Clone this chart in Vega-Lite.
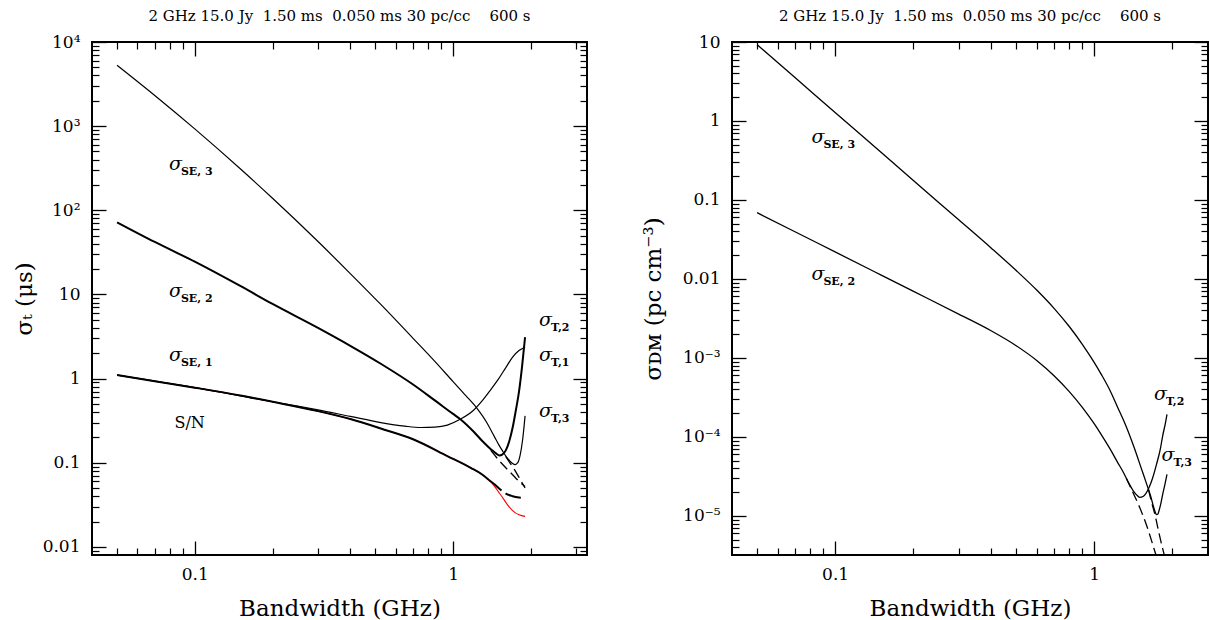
{
"$schema": "https://vega.github.io/schema/vega-lite/v6.json",
"background": "white",
"padding": {"left": 12, "top": 8, "right": 0, "bottom": 0},
"bounds": "flush",
"spacing": 145,
"config": {
  "view": {"stroke": "black", "strokeWidth": 2},
  "font": "DejaVu Serif",
  "axis": {"domain": false, "grid": false, "tickColor": "black", "tickWidth": 1.1,
           "labelFont": "DejaVu Serif", "labelFontSize": 17, "labelColor": "black", "labelFlush": false, "labelOverlap": false, "labelBound": false,
           "titleFont": "DejaVu Serif", "titleFontSize": 23, "titleFontWeight": "normal", "titleColor": "black"},
  "title": {"font": "DejaVu Serif", "fontSize": 15, "fontWeight": "normal", "color": "black", "offset": 9, "baseline": "alphabetic", "anchor": "middle"}
},
"datasets": {
  "left": [
    {"s":"red","x":0.05,"y":1.10},{"s":"red","x":0.07,"y":0.93},{"s":"red","x":0.1,"y":0.78},{"s":"red","x":0.15,"y":0.63},{"s":"red","x":0.2,"y":0.53},{"s":"red","x":0.3,"y":0.41},{"s":"red","x":0.4,"y":0.33},{"s":"red","x":0.525,"y":0.255},{"s":"red","x":0.7,"y":0.19},{"s":"red","x":0.95,"y":0.12},{"s":"red","x":1.17,"y":0.087},{"s":"red","x":1.3,"y":0.072},{"s":"red","x":1.4,"y":0.059},{"s":"red","x":1.45,"y":0.052},{"s":"red","x":1.5,"y":0.045},{"s":"red","x":1.56,"y":0.038},{"s":"red","x":1.62,"y":0.032},{"s":"red","x":1.7,"y":0.027},{"s":"red","x":1.8,"y":0.024},{"s":"red","x":1.9,"y":0.023},
    {"s":"se1","x":0.05,"y":1.10},{"s":"se1","x":0.07,"y":0.93},{"s":"se1","x":0.1,"y":0.78},{"s":"se1","x":0.15,"y":0.63},{"s":"se1","x":0.2,"y":0.53},{"s":"se1","x":0.3,"y":0.41},{"s":"se1","x":0.4,"y":0.33},{"s":"se1","x":0.525,"y":0.255},{"s":"se1","x":0.7,"y":0.19},{"s":"se1","x":0.95,"y":0.12},{"s":"se1","x":1.17,"y":0.087},{"s":"se1","x":1.3,"y":0.072},{"s":"se1","x":1.38,"y":0.062},
    {"s":"se1d","x":1.38,"y":0.062},{"s":"se1d","x":1.45,"y":0.055},{"s":"se1d","x":1.5,"y":0.05},{"s":"se1d","x":1.6,"y":0.043},{"s":"se1d","x":1.7,"y":0.04},{"s":"se1d","x":1.8,"y":0.0385},{"s":"se1d","x":1.9,"y":0.038},
    {"s":"t1","x":0.05,"y":1.10},{"s":"t1","x":0.1,"y":0.78},{"s":"t1","x":0.2,"y":0.53},{"s":"t1","x":0.25,"y":0.472},{"s":"t1","x":0.3,"y":0.425},{"s":"t1","x":0.4,"y":0.355},{"s":"t1","x":0.525,"y":0.30},{"s":"t1","x":0.65,"y":0.272},{"s":"t1","x":0.75,"y":0.262},{"s":"t1","x":0.85,"y":0.265},{"s":"t1","x":0.95,"y":0.28},{"s":"t1","x":1.07,"y":0.33},{"s":"t1","x":1.2,"y":0.42},{"s":"t1","x":1.3,"y":0.55},{"s":"t1","x":1.4,"y":0.74},{"s":"t1","x":1.5,"y":0.99},{"s":"t1","x":1.6,"y":1.35},{"s":"t1","x":1.7,"y":1.8},{"s":"t1","x":1.8,"y":2.15},{"s":"t1","x":1.9,"y":2.36},
    {"s":"t2","x":0.05,"y":72},{"s":"t2","x":0.07,"y":42},{"s":"t2","x":0.1,"y":24.5},{"s":"t2","x":0.15,"y":12.6},{"s":"t2","x":0.2,"y":7.7},{"s":"t2","x":0.3,"y":4.0},{"s":"t2","x":0.4,"y":2.45},{"s":"t2","x":0.525,"y":1.5},{"s":"t2","x":0.7,"y":0.85},{"s":"t2","x":0.85,"y":0.55},{"s":"t2","x":1.0,"y":0.38},{"s":"t2","x":1.07,"y":0.327},{"s":"t2","x":1.2,"y":0.235},{"s":"t2","x":1.3,"y":0.18},{"s":"t2","x":1.4,"y":0.145},{"s":"t2","x":1.47,"y":0.128},{"s":"t2","x":1.51,"y":0.122},{"s":"t2","x":1.55,"y":0.125},{"s":"t2","x":1.6,"y":0.14},{"s":"t2","x":1.65,"y":0.18},{"s":"t2","x":1.7,"y":0.26},{"s":"t2","x":1.75,"y":0.42},{"s":"t2","x":1.8,"y":0.7},{"s":"t2","x":1.85,"y":1.4},{"s":"t2","x":1.9,"y":3.1},
    {"s":"se2d","x":1.4,"y":0.14},{"s":"se2d","x":1.5,"y":0.108},{"s":"se2d","x":1.6,"y":0.087},{"s":"se2d","x":1.7,"y":0.072},{"s":"se2d","x":1.8,"y":0.06},{"s":"se2d","x":1.9,"y":0.052},
    {"s":"t3","x":0.05,"y":5300},{"s":"t3","x":0.07,"y":2317},{"s":"t3","x":0.1,"y":927},{"s":"t3","x":0.15,"y":311},{"s":"t3","x":0.2,"y":139},{"s":"t3","x":0.3,"y":42.5},{"s":"t3","x":0.4,"y":17.7},{"s":"t3","x":0.525,"y":7.6},{"s":"t3","x":0.7,"y":3.01},{"s":"t3","x":0.85,"y":1.6},{"s":"t3","x":1.0,"y":0.92},{"s":"t3","x":1.12,"y":0.628},{"s":"t3","x":1.24,"y":0.44},{"s":"t3","x":1.3,"y":0.36},{"s":"t3","x":1.35,"y":0.30},{"s":"t3","x":1.4,"y":0.245},{"s":"t3","x":1.45,"y":0.2},{"s":"t3","x":1.5,"y":0.165},{"s":"t3","x":1.55,"y":0.14},{"s":"t3","x":1.6,"y":0.12},{"s":"t3","x":1.65,"y":0.107},{"s":"t3","x":1.7,"y":0.098},{"s":"t3","x":1.74,"y":0.095},{"s":"t3","x":1.78,"y":0.1},{"s":"t3","x":1.82,"y":0.125},{"s":"t3","x":1.86,"y":0.19},{"s":"t3","x":1.9,"y":0.36},
    {"s":"se3d","x":1.6,"y":0.118},{"s":"se3d","x":1.65,"y":0.102},{"s":"se3d","x":1.72,"y":0.085},{"s":"se3d","x":1.8,"y":0.067},{"s":"se3d","x":1.9,"y":0.05}
  ],
  "right": [
    {"s":"t3","x":0.05,"y":9.25},{"s":"t3","x":0.07,"y":3.55},{"s":"t3","x":0.1,"y":1.28},{"s":"t3","x":0.15,"y":0.405},{"s":"t3","x":0.2,"y":0.178},{"s":"t3","x":0.3,"y":0.0561},{"s":"t3","x":0.4,"y":0.0247},{"s":"t3","x":0.5,"y":0.0128},{"s":"t3","x":0.6,"y":0.00724},{"s":"t3","x":0.7,"y":0.00425},{"s":"t3","x":0.8,"y":0.00252},{"s":"t3","x":0.9,"y":0.00149},{"s":"t3","x":1.0,"y":0.00088},{"s":"t3","x":1.065,"y":0.00062},{"s":"t3","x":1.15,"y":0.00039},{"s":"t3","x":1.23,"y":0.00024},{"s":"t3","x":1.33,"y":0.000135},{"s":"t3","x":1.43,"y":0.000072},{"s":"t3","x":1.52,"y":0.00004},{"s":"t3","x":1.59,"y":0.000026},{"s":"t3","x":1.65,"y":0.000018},{"s":"t3","x":1.69,"y":0.0000135},{"s":"t3","x":1.72,"y":0.0000112},{"s":"t3","x":1.74,"y":0.0000104},{"s":"t3","x":1.76,"y":0.0000105},{"s":"t3","x":1.78,"y":0.0000117},{"s":"t3","x":1.81,"y":0.0000145},{"s":"t3","x":1.84,"y":0.000019},{"s":"t3","x":1.88,"y":0.000026},{"s":"t3","x":1.91,"y":0.0000336},
    {"s":"se3d","x":1.62,"y":0.0000215},{"s":"se3d","x":1.66,"y":0.0000155},{"s":"se3d","x":1.72,"y":0.0000101},{"s":"se3d","x":1.78,"y":0.000006},{"s":"se3d","x":1.84,"y":0.0000038},{"s":"se3d","x":1.88,"y":0.0000029},{"s":"se3d","x":1.92,"y":0.0000023},
    {"s":"t2","x":0.05,"y":0.069},{"s":"t2","x":0.07,"y":0.0396},{"s":"t2","x":0.1,"y":0.022},{"s":"t2","x":0.15,"y":0.01127},{"s":"t2","x":0.2,"y":0.00701},{"s":"t2","x":0.3,"y":0.00359},{"s":"t2","x":0.4,"y":0.00221},{"s":"t2","x":0.5,"y":0.00143},{"s":"t2","x":0.6,"y":0.00093},{"s":"t2","x":0.7,"y":0.000596},{"s":"t2","x":0.8,"y":0.000378},{"s":"t2","x":0.9,"y":0.000237},{"s":"t2","x":1.0,"y":0.000147},{"s":"t2","x":1.065,"y":0.000107},{"s":"t2","x":1.15,"y":0.000071},{"s":"t2","x":1.23,"y":0.000048},{"s":"t2","x":1.3,"y":0.000035},{"s":"t2","x":1.36,"y":0.000026},{"s":"t2","x":1.42,"y":0.0000205},{"s":"t2","x":1.47,"y":0.000018},{"s":"t2","x":1.5,"y":0.0000172},{"s":"t2","x":1.54,"y":0.0000175},{"s":"t2","x":1.58,"y":0.000019},{"s":"t2","x":1.63,"y":0.000023},{"s":"t2","x":1.68,"y":0.00003},{"s":"t2","x":1.74,"y":0.000045},{"s":"t2","x":1.8,"y":0.00007},{"s":"t2","x":1.84,"y":0.000105},{"s":"t2","x":1.88,"y":0.000145},{"s":"t2","x":1.91,"y":0.000193},
    {"s":"se2d","x":1.33,"y":0.00003},{"s":"se2d","x":1.4,"y":0.0000209},{"s":"se2d","x":1.5,"y":0.0000127},{"s":"se2d","x":1.6,"y":0.0000073},{"s":"se2d","x":1.7,"y":0.0000039},{"s":"se2d","x":1.76,"y":0.0000027}
  ],
  "llab": [
    {"x":0.0794,"y":304,"sym":"σ","sub":"SE, 3"},
    {"x":0.0794,"y":9.4,"sym":"σ","sub":"SE, 2"},
    {"x":0.0794,"y":1.6,"sym":"σ","sub":"SE, 1"},
    {"x":2.15,"y":4.26,"sym":"σ","sub":"T,2"},
    {"x":2.15,"y":1.6,"sym":"σ","sub":"T,1"},
    {"x":2.15,"y":0.345,"sym":"σ","sub":"T,3"}
  ],
  "lnote": [{"x":0.0834,"y":0.255,"t":"S/N"}],
  "rlab": [
    {"x":0.081,"y":0.532,"sym":"σ","sub":"SE, 3"},
    {"x":0.081,"y":0.00984,"sym":"σ","sub":"SE, 2"},
    {"x":1.70,"y":0.000291,"sym":"σ","sub":"T,2"},
    {"x":1.82,"y":0.000049,"sym":"σ","sub":"T,3"}
  ]
},
"hconcat": [
  {
    "width": 495, "height": 513,
    "title": {"text": "2 GHz 15.0 Jy\u00a0 1.50 ms\u00a0 0.050 ms 30 pc/cc\u00a0\u00a0\u00a0 600 s"},
    "resolve": {"scale": {"x": "independent", "y": "independent"}, "axis": {"x": "independent", "y": "independent"}},
    "layer": [
      {
        "data": {"name": "left"},
        "transform": [{"filter": "datum.s == 'red'"}],
        "mark": {"type": "line", "color": "#ff0000", "strokeWidth": 1.1, "clip": true, "interpolate": "monotone"},
        "encoding": {
          "x": {"field": "x", "type": "quantitative", "scale": {"type": "log", "domain": [0.04, 3.3], "nice": false},
                "axis": {"orient": "bottom", "values": [0.1, 1], "ticks": false, "tickSize": 0,
                         "labelExpr": "datum.value == 0.1 ? '0.1' : datum.value == 1 ? '1' : ''",
                         "title": "Bandwidth (GHz)", "labelPadding": 11, "minExtent": 28, "maxExtent": 28, "titlePadding": 14}},
          "y": {"field": "y", "type": "quantitative", "scale": {"type": "log", "domain": [0.008, 10000], "nice": false},
                "axis": {"orient": "left", "values": [0.01,0.1,1,10,100,1000,10000], "ticks": false, "tickSize": 0,
                         "labelExpr": "datum.value == 10000 ? '10⁴' : datum.value == 1000 ? '10³' : datum.value == 100 ? '10²' : datum.value == 10 ? '10' : datum.value == 1 ? '1' : datum.value == 0.1 ? '0.1' : datum.value == 0.01 ? '0.01' : ''",
                         "title": "σₜ (μs)", "labelPadding": 12, "minExtent": 50, "maxExtent": 50, "titlePadding": 6}}
        }
      },
      {
        "data": {"name": "left"},
        "transform": [{"filter": "datum.s == 'se1'"}],
        "mark": {"type": "line", "color": "black", "strokeWidth": 2, "clip": true, "interpolate": "monotone"},
        "encoding": {
          "x": {"field": "x", "type": "quantitative", "scale": {"type": "log", "domain": [0.04, 3.3], "nice": false},
                "axis": {"orient": "bottom", "values": [0.1, 1], "labels": false, "title": null, "tickSize": -14, "tickWidth": 1.3}},
          "y": {"field": "y", "type": "quantitative", "scale": {"type": "log", "domain": [0.008, 10000], "nice": false},
                "axis": {"orient": "left", "values": [0.01,0.1,1,10,100,1000,10000], "labels": false, "title": null, "tickSize": -14, "tickWidth": 1.3}}
        }
      },
      {
        "data": {"name": "left"},
        "transform": [{"filter": "datum.s == 'se1d'"}],
        "mark": {"type": "line", "color": "black", "strokeWidth": 2, "strokeDash": [16, 5], "clip": true, "interpolate": "monotone"},
        "encoding": {
          "x": {"field": "x", "type": "quantitative", "scale": {"type": "log", "domain": [0.04, 3.3], "nice": false},
                "axis": {"orient": "bottom", "values": [0.05,0.06,0.07,0.08,0.09,0.2,0.3,0.4,0.5,0.6,0.7,0.8,0.9,2,3], "labels": false, "title": null, "ticks": false, "grid": true, "gridColor": "black", "gridWidth": 1.2, "gridDash": [7, 3000]}},
          "y": {"field": "y", "type": "quantitative", "scale": {"type": "log", "domain": [0.008, 10000], "nice": false},
                "axis": {"orient": "left", "values": [0.009,0.02,0.03,0.04,0.05,0.06,0.07,0.08,0.09,0.2,0.3,0.4,0.5,0.6,0.7,0.8,0.9,2,3,4,5,6,7,8,9,20,30,40,50,60,70,80,90,200,300,400,500,600,700,800,900,2000,3000,4000,5000,6000,7000,8000,9000], "labels": false, "title": null, "ticks": false, "grid": true, "gridColor": "black", "gridWidth": 1.2, "gridDash": [7, 3000]}}
        }
      },
      {
        "data": {"name": "left"},
        "transform": [{"filter": "datum.s == 't1' || datum.s == 't3'"}],
        "mark": {"type": "line", "color": "black", "strokeWidth": 1.2, "clip": true, "interpolate": "monotone"},
        "encoding": {
          "x": {"field": "x", "type": "quantitative", "scale": {"type": "log", "domain": [0.04, 3.3], "nice": false},
                "axis": {"orient": "top", "values": [0.1, 1], "labels": false, "title": null, "tickSize": -14, "tickWidth": 1.3}},
          "y": {"field": "y", "type": "quantitative", "scale": {"type": "log", "domain": [0.008, 10000], "nice": false},
                "axis": {"orient": "right", "values": [0.01,0.1,1,10,100,1000,10000], "labels": false, "title": null, "tickSize": -14, "tickWidth": 1.3}},
          "detail": {"field": "s"}
        }
      },
      {
        "data": {"name": "left"},
        "transform": [{"filter": "datum.s == 't2'"}],
        "mark": {"type": "line", "color": "black", "strokeWidth": 2, "clip": true, "interpolate": "monotone"},
        "encoding": {
          "x": {"field": "x", "type": "quantitative", "scale": {"type": "log", "domain": [0.04, 3.3], "nice": false},
                "axis": {"orient": "top", "values": [0.05,0.06,0.07,0.08,0.09,0.2,0.3,0.4,0.5,0.6,0.7,0.8,0.9,2,3], "labels": false, "title": null, "ticks": false, "grid": true, "gridColor": "black", "gridWidth": 1.2, "gridDash": [7, 3000]}},
          "y": {"field": "y", "type": "quantitative", "scale": {"type": "log", "domain": [0.008, 10000], "nice": false},
                "axis": {"orient": "right", "values": [0.009,0.02,0.03,0.04,0.05,0.06,0.07,0.08,0.09,0.2,0.3,0.4,0.5,0.6,0.7,0.8,0.9,2,3,4,5,6,7,8,9,20,30,40,50,60,70,80,90,200,300,400,500,600,700,800,900,2000,3000,4000,5000,6000,7000,8000,9000], "labels": false, "title": null, "ticks": false, "grid": true, "gridColor": "black", "gridWidth": 1.2, "gridDash": [7, 3000]}}
        }
      },
      {
        "data": {"name": "left"},
        "transform": [{"filter": "datum.s == 'se2d' || datum.s == 'se3d'"}],
        "mark": {"type": "line", "color": "black", "strokeWidth": 1.3, "strokeDash": [10, 5], "clip": true, "interpolate": "monotone"},
        "encoding": {
          "x": {"field": "x", "type": "quantitative", "scale": {"type": "log", "domain": [0.04, 3.3], "nice": false}, "axis": null},
          "y": {"field": "y", "type": "quantitative", "scale": {"type": "log", "domain": [0.008, 10000], "nice": false}, "axis": null},
          "detail": {"field": "s"}
        }
      },
      {
        "data": {"name": "llab"},
        "mark": {"type": "text", "font": "DejaVu Serif", "fontStyle": "italic", "fontSize": 19, "align": "left", "baseline": "alphabetic", "color": "black"},
        "encoding": {
          "x": {"field": "x", "type": "quantitative", "scale": {"type": "log", "domain": [0.04, 3.3], "nice": false}, "axis": null},
          "y": {"field": "y", "type": "quantitative", "scale": {"type": "log", "domain": [0.008, 10000], "nice": false}, "axis": null},
          "text": {"field": "sym"}
        }
      },
      {
        "data": {"name": "llab"},
        "mark": {"type": "text", "font": "DejaVu Serif", "fontWeight": "bold", "fontSize": 11, "align": "left", "baseline": "alphabetic", "dx": 12, "dy": 5, "color": "black"},
        "encoding": {
          "x": {"field": "x", "type": "quantitative", "scale": {"type": "log", "domain": [0.04, 3.3], "nice": false}, "axis": null},
          "y": {"field": "y", "type": "quantitative", "scale": {"type": "log", "domain": [0.008, 10000], "nice": false}, "axis": null},
          "text": {"field": "sub"}
        }
      },
      {
        "data": {"name": "lnote"},
        "mark": {"type": "text", "font": "DejaVu Serif", "fontSize": 16, "align": "left", "baseline": "alphabetic", "color": "black"},
        "encoding": {
          "x": {"field": "x", "type": "quantitative", "scale": {"type": "log", "domain": [0.04, 3.3], "nice": false}, "axis": null},
          "y": {"field": "y", "type": "quantitative", "scale": {"type": "log", "domain": [0.008, 10000], "nice": false}, "axis": null},
          "text": {"field": "t"}
        }
      }
    ]
  },
  {
    "width": 476, "height": 513,
    "title": {"text": "2 GHz 15.0 Jy\u00a0 1.50 ms\u00a0 0.050 ms 30 pc/cc\u00a0\u00a0\u00a0 600 s"},
    "resolve": {"scale": {"x": "independent", "y": "independent"}, "axis": {"x": "independent", "y": "independent"}},
    "layer": [
      {
        "data": {"name": "right"},
        "transform": [{"filter": "datum.s == 't2'"}],
        "mark": {"type": "line", "color": "black", "strokeWidth": 1.3, "clip": true, "interpolate": "monotone"},
        "encoding": {
          "x": {"field": "x", "type": "quantitative", "scale": {"type": "log", "domain": [0.04, 2.75], "nice": false},
                "axis": {"orient": "bottom", "values": [0.1, 1], "ticks": false, "tickSize": 0,
                         "labelExpr": "datum.value == 0.1 ? '0.1' : datum.value == 1 ? '1' : ''",
                         "title": "Bandwidth (GHz)", "labelPadding": 11, "minExtent": 28, "maxExtent": 28, "titlePadding": 14}},
          "y": {"field": "y", "type": "quantitative", "scale": {"type": "log", "domain": [0.0000032, 10], "nice": false},
                "axis": {"orient": "left", "values": [0.00001,0.0001,0.001,0.01,0.1,1,10], "ticks": false, "tickSize": 0,
                         "labelExpr": "datum.value == 10 ? '10' : datum.value == 1 ? '1' : datum.value == 0.1 ? '0.1' : datum.value == 0.01 ? '0.01' : datum.value == 0.001 ? '10⁻³' : datum.value == 0.0001 ? '10⁻⁴' : datum.value == 0.00001 ? '10⁻⁵' : ''",
                         "title": "σᴅᴍ (pc cm⁻³)", "labelPadding": 12, "minExtent": 50, "maxExtent": 50, "titlePadding": 17}}
        }
      },
      {
        "data": {"name": "right"},
        "transform": [{"filter": "datum.s == 't3'"}],
        "mark": {"type": "line", "color": "black", "strokeWidth": 1.3, "clip": true, "interpolate": "monotone"},
        "encoding": {
          "x": {"field": "x", "type": "quantitative", "scale": {"type": "log", "domain": [0.04, 2.75], "nice": false},
                "axis": {"orient": "bottom", "values": [0.1, 1], "labels": false, "title": null, "tickSize": -14, "tickWidth": 1.3}},
          "y": {"field": "y", "type": "quantitative", "scale": {"type": "log", "domain": [0.0000032, 10], "nice": false},
                "axis": {"orient": "left", "values": [0.00001,0.0001,0.001,0.01,0.1,1,10], "labels": false, "title": null, "tickSize": -14, "tickWidth": 1.3}}
        }
      },
      {
        "data": {"name": "right"},
        "transform": [{"filter": "datum.s == 'se2d'"}],
        "mark": {"type": "line", "color": "black", "strokeWidth": 1.3, "strokeDash": [10, 5], "clip": true, "interpolate": "monotone"},
        "encoding": {
          "x": {"field": "x", "type": "quantitative", "scale": {"type": "log", "domain": [0.04, 2.75], "nice": false},
                "axis": {"orient": "bottom", "values": [0.05,0.06,0.07,0.08,0.09,0.2,0.3,0.4,0.5,0.6,0.7,0.8,0.9,2], "labels": false, "title": null, "ticks": false, "grid": true, "gridColor": "black", "gridWidth": 1.2, "gridDash": [7, 3000]}},
          "y": {"field": "y", "type": "quantitative", "scale": {"type": "log", "domain": [0.0000032, 10], "nice": false},
                "axis": {"orient": "left", "values": [0.000004,0.000005,0.000006,0.000007,0.000008,0.000009,0.00002,0.00003,0.00004,0.00005,0.00006,0.00007,0.00008,0.00009,0.0002,0.0003,0.0004,0.0005,0.0006,0.0007,0.0008,0.0009,0.002,0.003,0.004,0.005,0.006,0.007,0.008,0.009,0.02,0.03,0.04,0.05,0.06,0.07,0.08,0.09,0.2,0.3,0.4,0.5,0.6,0.7,0.8,0.9,2,3,4,5,6,7,8,9], "labels": false, "title": null, "ticks": false, "grid": true, "gridColor": "black", "gridWidth": 1.2, "gridDash": [7, 3000]}}
        }
      },
      {
        "data": {"name": "right"},
        "transform": [{"filter": "datum.s == 'se3d'"}],
        "mark": {"type": "line", "color": "black", "strokeWidth": 1.3, "strokeDash": [10, 5], "clip": true, "interpolate": "monotone"},
        "encoding": {
          "x": {"field": "x", "type": "quantitative", "scale": {"type": "log", "domain": [0.04, 2.75], "nice": false},
                "axis": {"orient": "top", "values": [0.1, 1], "labels": false, "title": null, "tickSize": -14, "tickWidth": 1.3}},
          "y": {"field": "y", "type": "quantitative", "scale": {"type": "log", "domain": [0.0000032, 10], "nice": false},
                "axis": {"orient": "right", "values": [0.00001,0.0001,0.001,0.01,0.1,1,10], "labels": false, "title": null, "tickSize": -14, "tickWidth": 1.3}}
        }
      },
      {
        "data": {"name": "rlab"},
        "mark": {"type": "text", "font": "DejaVu Serif", "fontStyle": "italic", "fontSize": 19, "align": "left", "baseline": "alphabetic", "color": "black"},
        "encoding": {
          "x": {"field": "x", "type": "quantitative", "scale": {"type": "log", "domain": [0.04, 2.75], "nice": false},
                "axis": {"orient": "top", "values": [0.05,0.06,0.07,0.08,0.09,0.2,0.3,0.4,0.5,0.6,0.7,0.8,0.9,2], "labels": false, "title": null, "ticks": false, "grid": true, "gridColor": "black", "gridWidth": 1.2, "gridDash": [7, 3000]}},
          "y": {"field": "y", "type": "quantitative", "scale": {"type": "log", "domain": [0.0000032, 10], "nice": false},
                "axis": {"orient": "right", "values": [0.000004,0.000005,0.000006,0.000007,0.000008,0.000009,0.00002,0.00003,0.00004,0.00005,0.00006,0.00007,0.00008,0.00009,0.0002,0.0003,0.0004,0.0005,0.0006,0.0007,0.0008,0.0009,0.002,0.003,0.004,0.005,0.006,0.007,0.008,0.009,0.02,0.03,0.04,0.05,0.06,0.07,0.08,0.09,0.2,0.3,0.4,0.5,0.6,0.7,0.8,0.9,2,3,4,5,6,7,8,9], "labels": false, "title": null, "ticks": false, "grid": true, "gridColor": "black", "gridWidth": 1.2, "gridDash": [7, 3000]}},
          "text": {"field": "sym"}
        }
      },
      {
        "data": {"name": "rlab"},
        "mark": {"type": "text", "font": "DejaVu Serif", "fontWeight": "bold", "fontSize": 11, "align": "left", "baseline": "alphabetic", "dx": 12, "dy": 5, "color": "black"},
        "encoding": {
          "x": {"field": "x", "type": "quantitative", "scale": {"type": "log", "domain": [0.04, 2.75], "nice": false}, "axis": null},
          "y": {"field": "y", "type": "quantitative", "scale": {"type": "log", "domain": [0.0000032, 10], "nice": false}, "axis": null},
          "text": {"field": "sub"}
        }
      }
    ]
  }
]
}
